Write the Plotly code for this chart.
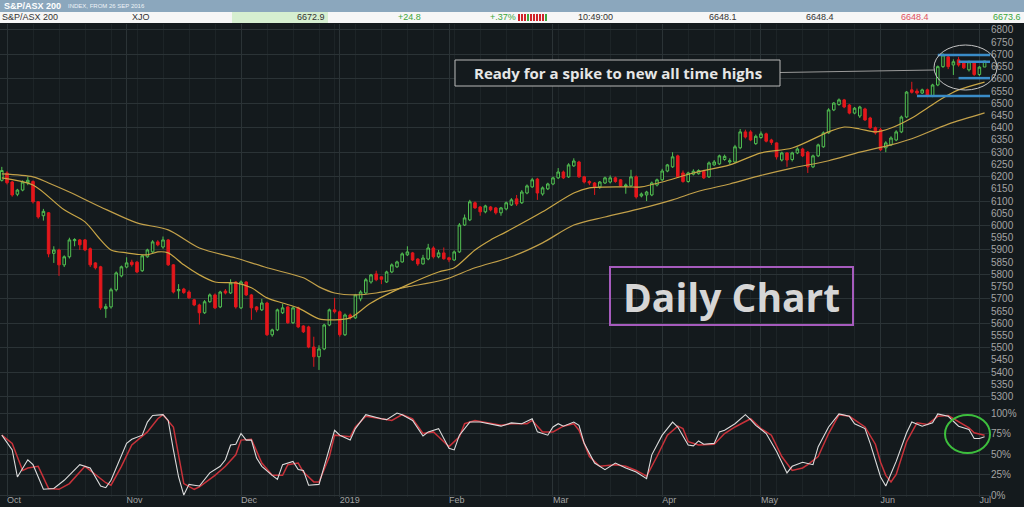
import pandas as pd
import plotly.graph_objects as go

# ASX sessions shown on the chart (weekends + exchange holidays removed)
HOLIDAYS = ["2018-12-25", "2018-12-26", "2019-01-01", "2019-01-28",
            "2019-04-19", "2019-04-22", "2019-04-25", "2019-06-10"]
dates = [d for d in pd.bdate_range("2018-09-28", "2019-07-02")
         if d.strftime("%Y-%m-%d") not in HOLIDAYS]

# daily candles (open, high, low, close), one list per month
sep_2018 = [(6185, 6240, 6180, 6225)]
oct_2018 = [(6215, 6222, 6168, 6175), (6178, 6182, 6118, 6125), (6128, 6150, 6120, 6145),
            (6145, 6185, 6140, 6178), (6175, 6200, 6165, 6185), (6180, 6185, 6090, 6097),
            (6097, 6100, 6028, 6035), (6040, 6068, 6020, 6058), (6052, 6055, 5870, 5884),
            (5886, 5915, 5847, 5900), (5900, 5905, 5794, 5839), (5839, 5878, 5830, 5872),
            (5872, 5950, 5865, 5941), (5938, 5948, 5915, 5942), (5941, 5945, 5900, 5921),
            (5941, 5945, 5895, 5900), (5905, 5910, 5830, 5839), (5847, 5850, 5820, 5827),
            (5831, 5835, 5655, 5663), (5660, 5680, 5622, 5668), (5667, 5745, 5660, 5737),
            (5737, 5812, 5730, 5806), (5794, 5836, 5788, 5831)]
nov_2018 = [(5830, 5870, 5825, 5847), (5850, 5860, 5832, 5840), (5850, 5855, 5805, 5810),
            (5815, 5880, 5810, 5876), (5872, 5905, 5868, 5900), (5892, 5940, 5888, 5933),
            (5933, 5940, 5915, 5921), (5912, 5955, 5905, 5941), (5941, 5945, 5835, 5839),
            (5839, 5842, 5722, 5728), (5733, 5760, 5700, 5738), (5740, 5745, 5720, 5726),
            (5728, 5735, 5700, 5704), (5696, 5700, 5670, 5675), (5675, 5680, 5595, 5643),
            (5643, 5695, 5638, 5688), (5688, 5722, 5684, 5716), (5716, 5722, 5658, 5663),
            (5667, 5733, 5662, 5728), (5732, 5740, 5718, 5724), (5724, 5780, 5720, 5765),
            (5769, 5772, 5660, 5667)]
dec_2018 = [(5663, 5775, 5658, 5769), (5769, 5772, 5712, 5716), (5716, 5720, 5614, 5663),
            (5667, 5670, 5645, 5655), (5655, 5700, 5650, 5683), (5683, 5688, 5548, 5553),
            (5553, 5578, 5545, 5573), (5573, 5660, 5568, 5655), (5643, 5680, 5638, 5663),
            (5667, 5672, 5598, 5602), (5602, 5668, 5597, 5663), (5663, 5668, 5580, 5585),
            (5589, 5592, 5560, 5565), (5585, 5590, 5498, 5503), (5503, 5545, 5422, 5463),
            (5463, 5510, 5409, 5495), (5495, 5598, 5490, 5593), (5593, 5660, 5588, 5655),
            (5655, 5704, 5640, 5647)]
jan_2019 = [(5647, 5652, 5545, 5553), (5553, 5640, 5548, 5634), (5634, 5640, 5615, 5622),
            (5622, 5720, 5618, 5716), (5700, 5735, 5690, 5728), (5724, 5785, 5720, 5778),
            (5769, 5802, 5762, 5798), (5802, 5815, 5772, 5778), (5790, 5792, 5760, 5780),
            (5769, 5815, 5765, 5810), (5810, 5845, 5805, 5839), (5831, 5856, 5826, 5851),
            (5851, 5890, 5848, 5884), (5880, 5915, 5875, 5892), (5888, 5892, 5855, 5859),
            (5863, 5866, 5835, 5843), (5843, 5880, 5840, 5867), (5863, 5925, 5858, 5908),
            (5908, 5915, 5865, 5872), (5872, 5900, 5866, 5888), (5888, 5910, 5860, 5864)]
feb_2019 = [(5868, 5872, 5850, 5860), (5859, 5898, 5855, 5892), (5892, 6010, 5888, 6002),
            (6002, 6045, 5998, 6031), (6023, 6105, 6018, 6097), (6093, 6098, 6068, 6072),
            (6076, 6080, 6040, 6056), (6056, 6085, 6050, 6080), (6076, 6080, 6058, 6064),
            (6072, 6076, 6045, 6052), (6052, 6076, 6040, 6072), (6068, 6098, 6062, 6093),
            (6084, 6112, 6080, 6105), (6109, 6125, 6080, 6088), (6093, 6145, 6088, 6137),
            (6133, 6168, 6128, 6162), (6158, 6195, 6154, 6187), (6190, 6195, 6105, 6133),
            (6129, 6160, 6122, 6154), (6150, 6175, 6145, 6170)]
mar_2019 = [(6170, 6200, 6165, 6195), (6195, 6235, 6190, 6219), (6219, 6225, 6190, 6195),
            (6199, 6255, 6195, 6248), (6244, 6275, 6240, 6264), (6260, 6265, 6195, 6199),
            (6199, 6203, 6172, 6178), (6180, 6185, 6165, 6174), (6174, 6178, 6125, 6158),
            (6158, 6182, 6150, 6178), (6174, 6200, 6170, 6195), (6178, 6205, 6172, 6195),
            (6195, 6200, 6175, 6180), (6187, 6190, 6158, 6162), (6160, 6172, 6130, 6166),
            (6162, 6228, 6158, 6199), (6199, 6205, 6110, 6117), (6121, 6135, 6115, 6129),
            (6125, 6142, 6100, 6137), (6125, 6180, 6120, 6174), (6166, 6192, 6160, 6187)]
apr_2019 = [(6187, 6232, 6182, 6223), (6223, 6252, 6218, 6248), (6240, 6300, 6236, 6281),
            (6285, 6290, 6195, 6199), (6215, 6225, 6175, 6180), (6180, 6220, 6175, 6215),
            (6210, 6230, 6205, 6222), (6212, 6230, 6208, 6225), (6222, 6228, 6190, 6195),
            (6199, 6262, 6195, 6256), (6248, 6268, 6244, 6260), (6252, 6290, 6248, 6285),
            (6270, 6290, 6265, 6283), (6260, 6275, 6250, 6265), (6260, 6330, 6255, 6322),
            (6318, 6395, 6312, 6383), (6383, 6392, 6356, 6362), (6383, 6390, 6345, 6350),
            (6335, 6372, 6330, 6365)]
may_2019 = [(6360, 6385, 6355, 6375), (6375, 6380, 6340, 6345), (6350, 6355, 6330, 6340),
            (6338, 6340, 6270, 6281), (6268, 6302, 6262, 6297), (6297, 6300, 6240, 6268),
            (6270, 6302, 6262, 6297), (6297, 6320, 6292, 6313), (6313, 6318, 6280, 6285),
            (6300, 6305, 6215, 6240), (6240, 6290, 6235, 6285), (6285, 6335, 6280, 6330),
            (6322, 6385, 6318, 6379), (6379, 6480, 6375, 6473), (6473, 6505, 6468, 6501),
            (6495, 6520, 6490, 6514), (6514, 6518, 6480, 6485), (6493, 6497, 6455, 6460),
            (6460, 6485, 6455, 6480), (6448, 6490, 6440, 6485), (6477, 6482, 6428, 6432),
            (6440, 6445, 6395, 6400), (6400, 6405, 6372, 6379)]
jun_2019 = [(6392, 6400, 6305, 6310), (6318, 6345, 6300, 6338), (6330, 6365, 6325, 6358),
            (6350, 6390, 6345, 6383), (6383, 6450, 6378, 6444), (6444, 6550, 6440, 6546),
            (6555, 6588, 6540, 6545), (6550, 6560, 6535, 6542), (6542, 6560, 6538, 6555),
            (6555, 6560, 6525, 6530), (6530, 6580, 6525, 6575), (6575, 6655, 6570, 6650),
            (6650, 6705, 6645, 6698), (6690, 6695, 6640, 6650), (6657, 6680, 6616, 6670),
            (6678, 6690, 6650, 6657), (6665, 6670, 6640, 6645), (6637, 6675, 6630, 6670),
            (6665, 6670, 6612, 6618)]
jul_2019 = [(6618, 6652, 6612, 6648.1), (6648.4, 6673.6, 6648.4, 6672.9)]

candles = (sep_2018 + oct_2018 + nov_2018 + dec_2018 + jan_2019 + feb_2019
           + mar_2019 + apr_2019 + may_2019 + jun_2019 + jul_2019)
opens = [c[0] for c in candles]
highs = [c[1] for c in candles]
lows = [c[2] for c in candles]
closes = [c[3] for c in candles]

# moving averages, sampled at session numbers (0 = 28 Sep 2018)
ma_fast_day = [0, 6, 12, 16, 19, 21, 24, 28, 30, 32, 35, 38, 41, 45, 48, 51, 54, 57, 61, 64,
               67, 71, 78, 84, 87, 91, 94, 97, 104, 110, 113, 120, 123, 127, 133, 140, 146, 152,
               159, 162, 165, 168, 171, 175, 178, 181, 184, 189]
ma_fast = [6195, 6166, 6064, 6015, 5941, 5900, 5888, 5880, 5892, 5888, 5839, 5798, 5769, 5765,
           5745, 5704, 5683, 5663, 5618, 5614, 5622, 5683, 5757, 5810, 5827, 5900, 5941, 5974,
           6056, 6133, 6154, 6158, 6158, 6178, 6215, 6248, 6297, 6317, 6383, 6403, 6395, 6383,
           6399, 6440, 6481, 6522, 6555, 6587]
ma_slow_day = [0, 6, 9, 13, 19, 26, 32, 38, 45, 51, 58, 61, 64, 68, 72, 78, 85, 91, 98, 104,
               110, 116, 123, 129, 134, 140, 146, 152, 159, 165, 171, 175, 182, 189]
ma_slow = [6211, 6199, 6174, 6137, 6076, 6011, 5982, 5908, 5867, 5827, 5786, 5749, 5724, 5716,
           5724, 5749, 5778, 5827, 5872, 5929, 6002, 6035, 6070, 6105, 6140, 6170, 6205, 6235,
           6265, 6300, 6330, 6355, 6415, 6461]

# stochastic %K (white) and %D (red)
k_day = [0, 2, 3, 5, 6, 8, 10, 12, 15, 17, 19, 20, 21, 24, 25, 27, 28, 29, 31, 32,
         33, 34, 35, 36, 37, 38, 40, 42, 43, 44, 45, 46, 47, 48, 49, 50, 52, 53, 54, 56,
         57, 58, 59, 61, 62, 64, 65, 67, 68, 70, 73, 74, 76, 77, 79, 81, 82, 84, 86, 87,
         88, 90, 92, 96, 98, 100, 102, 103, 105, 106, 107, 108, 110, 111, 112, 114, 116, 118, 120, 122,
         124, 125, 127, 129, 130, 132, 133, 134, 135, 137, 138, 139, 141, 143, 144, 145, 147, 149, 151, 152,
         154, 156, 157, 159, 161, 163, 164, 166, 167, 169, 170, 172, 174, 175, 177, 179, 180, 182, 184, 186,
         187, 188, 189]
k_val = [73, 55, 22, 43, 37, 7, 8, 18, 37, 33, 11, 9, 18, 63, 68, 73, 89, 97, 98, 91,
         55, 22, 0, 13, 12, 11, 27, 35, 43, 61, 62, 75, 67, 67, 45, 35, 24, 19, 37, 41,
         31, 30, 12, 13, 35, 79, 73, 67, 81, 98, 93, 92, 100, 98, 91, 72, 77, 81, 57, 55,
         73, 89, 89, 84, 88, 87, 93, 77, 73, 83, 87, 84, 89, 85, 63, 39, 31, 39, 33, 28,
         20, 49, 73, 89, 83, 61, 60, 66, 62, 63, 77, 79, 87, 98, 92, 85, 75, 53, 27, 35,
         40, 37, 59, 83, 99, 96, 87, 81, 63, 22, 11, 41, 76, 89, 84, 88, 99, 96, 84, 80,
         69, 69, 71]
d_day = [0, 2, 4, 5, 7, 9, 11, 13, 16, 17, 20, 21, 23, 25, 26, 28, 30, 31, 33, 34,
         35, 37, 38, 41, 43, 45, 46, 48, 49, 50, 52, 54, 55, 57, 58, 60, 61, 63, 64, 67,
         68, 70, 73, 75, 77, 79, 81, 83, 84, 86, 88, 89, 91, 96, 98, 101, 102, 104, 106, 108,
         110, 111, 113, 115, 118, 120, 122, 124, 126, 128, 130, 131, 132, 134, 137, 139, 141, 144, 146, 148,
         150, 152, 154, 155, 157, 159, 161, 163, 166, 168, 169, 170, 171, 172, 174, 176, 178, 180, 182, 184,
         186, 187, 189]
d_val = [73, 63, 30, 33, 35, 8, 7, 14, 35, 30, 15, 12, 35, 61, 66, 77, 93, 98, 83, 47,
         14, 7, 10, 24, 35, 49, 67, 68, 53, 39, 24, 24, 37, 39, 28, 16, 16, 47, 73, 71,
         83, 96, 93, 91, 98, 93, 75, 77, 71, 59, 71, 87, 91, 85, 87, 87, 91, 77, 77, 84,
         87, 79, 47, 35, 37, 35, 30, 23, 47, 73, 84, 81, 65, 61, 62, 75, 83, 93, 81, 73,
         47, 30, 33, 37, 47, 75, 98, 96, 83, 62, 40, 24, 16, 25, 65, 88, 86, 96, 97, 90,
         82, 76, 73]

# hand-drawn support/resistance levels (start date, price)
levels = [("2019-06-19", 6698), ("2019-06-25", 6670), ("2019-06-25", 6603), ("2019-06-13", 6530)]

month_ticks = ["2018-10-01", "2018-11-01", "2018-12-03", "2019-01-02", "2019-02-01",
               "2019-03-01", "2019-04-01", "2019-05-01", "2019-06-03", "2019-07-01"]
month_labels = ["Oct", "Nov", "Dec", "2019", "Feb", "Mar", "Apr", "May", "Jun", "Jul"]

BG = "#141a1d"
GRID = "#2b3336"
GRID_MINOR = "#1d2427"
GREEN = "#52c152"
RED = "#e3171c"
GOLD = "#c9a646"
TICK = "#a3a3a3"

# pixel helpers for overlay artwork (plot area = 990 x 473 px, top at 24 px)
def px(x):
    return x / 990.0

def py(y):
    return (497 - y) / 473.0

fig = go.Figure()
fig.add_trace(go.Candlestick(
    x=dates, open=opens, high=highs, low=lows, close=closes,
    increasing=dict(line=dict(color=GREEN, width=1), fillcolor=BG),
    decreasing=dict(line=dict(color=RED, width=1), fillcolor=RED),
    whiskerwidth=0, hoverinfo="skip", showlegend=False))
fig.add_trace(go.Scatter(x=[dates[d] for d in ma_slow_day], y=ma_slow, mode="lines",
                         line=dict(color="#c2a04a", width=1.2, shape="spline", smoothing=0.8),
                         hoverinfo="skip"))
fig.add_trace(go.Scatter(x=[dates[d] for d in ma_fast_day], y=ma_fast, mode="lines",
                         line=dict(color=GOLD, width=1.2, shape="spline", smoothing=0.8),
                         hoverinfo="skip"))
# empty trace so the 100-point grid axis exists
fig.add_trace(go.Scatter(x=[], y=[], yaxis="y3", hoverinfo="skip"))
fig.add_trace(go.Scatter(x=[dates[d] for d in d_day], y=d_val, mode="lines",
                         line=dict(color="#c8323a", width=1.5), xaxis="x2", yaxis="y2",
                         hoverinfo="skip"))
fig.add_trace(go.Scatter(x=[dates[d] for d in k_day], y=k_val, mode="lines",
                         line=dict(color="#dcdcdc", width=1.1), xaxis="x2", yaxis="y2",
                         hoverinfo="skip"))

breaks = [dict(bounds=["sat", "mon"]), dict(values=HOLIDAYS)]
x_range = ["2018-09-27 15:40", "2019-07-03 01:00"]
minor = dict(dtick=7 * 86400000, tick0="2018-10-01", showgrid=True, gridcolor=GRID_MINOR)
tickfont = dict(family="Liberation Sans", size=10, color=TICK)
main_dom = [92 / 473.0, 1]

fig.update_layout(
    template="none", width=1024, height=507,
    margin=dict(l=0, r=34, t=24, b=10),
    paper_bgcolor=BG, plot_bgcolor=BG, showlegend=False,
    xaxis=dict(anchor="y", range=x_range, rangebreaks=breaks, rangeslider=dict(visible=False),
               tickmode="array", tickvals=month_ticks, showticklabels=False,
               showgrid=True, gridcolor=GRID, minor=minor, zeroline=False, showline=False, ticks=""),
    xaxis2=dict(anchor="y2", matches="x", range=x_range, rangebreaks=breaks,
                tickmode="array", tickvals=month_ticks, ticktext=month_labels,
                ticklabelposition="outside right", ticklabelstandoff=-4,
                tickfont=dict(family="Liberation Sans", size=9, color=TICK),
                showgrid=True, gridcolor=GRID, minor=minor, zeroline=False, showline=False, ticks=""),
    yaxis=dict(domain=main_dom, anchor="x", side="right", range=[5265.6, 6824.5],
               tick0=0, dtick=50, showgrid=False, zeroline=False, tickfont=tickfont, ticks=""),
    yaxis3=dict(overlaying="y", anchor="x", side="right", range=[5265.6, 6824.5],
                tick0=0, dtick=100, showgrid=True, gridcolor=GRID, showticklabels=False,
                zeroline=False, ticks=""),
    yaxis2=dict(domain=[0, 92 / 473.0], anchor="x2", side="right", range=[-2.4, 109.8],
                tickmode="array", tickvals=[0, 25, 50, 75, 100],
                ticktext=["0%", "25%", "50%", "75%", "100%"],
                showgrid=True, gridcolor=GRID, zeroline=False, tickfont=tickfont, ticks=""),
)

shapes = []
# support / resistance lines
for start, lvl in levels:
    shapes.append(dict(type="line", xref="x", yref="y", x0=start, x1="2019-07-03 01:00",
                       y0=lvl, y1=lvl, line=dict(color="#3a8cc8", width=2.5)))
# callout ellipse, connector and boxes
shapes.append(dict(type="circle", xref="paper", yref="paper", x0=px(934), x1=px(997),
                   y0=py(90), y1=py(45), line=dict(color="#c4c4c4", width=1)))
shapes.append(dict(type="line", xref="paper", yref="paper", x0=px(780), x1=px(934),
                   y0=py(72.5), y1=py(70), line=dict(color="#9a9a9a", width=1)))
shapes.append(dict(type="rect", xref="paper", yref="paper", x0=px(455), x1=px(780),
                   y0=py(86), y1=py(60), line=dict(color="#b8b8b8", width=1), fillcolor=BG))
shapes.append(dict(type="rect", xref="paper", yref="paper", x0=px(610), x1=px(853),
                   y0=py(325), y1=py(267), line=dict(color="#a65bbd", width=2)))
shapes.append(dict(type="circle", xref="paper", yref="paper", x0=px(945), x1=px(990),
                   y0=py(453), y1=py(415), line=dict(color="#3dbf3d", width=2)))
# quote header
shapes.append(dict(type="rect", xref="paper", yref="paper", x0=0, x1=px(1024),
                   y0=py(12), y1=py(0), line=dict(width=0), fillcolor="#8ba7bd"))
shapes.append(dict(type="rect", xref="paper", yref="paper", x0=0, x1=px(1024),
                   y0=py(23), y1=py(12), line=dict(width=0), fillcolor="#f6f6f6"))
shapes.append(dict(type="rect", xref="paper", yref="paper", x0=px(232), x1=px(328),
                   y0=py(23), y1=py(12), line=dict(width=0), fillcolor="#d6efd0"))
for k in range(10):
    shapes.append(dict(type="rect", xref="paper", yref="paper",
                       x0=px(518 + 3 * k), x1=px(520 + 3 * k), y0=py(21), y1=py(14),
                       line=dict(width=0), fillcolor="#3fa83f" if k in (3, 9) else "#d0242a"))
fig.update_layout(shapes=shapes)

ann = []
def label(text, x, y, anchor="left", size=9, color="#333333", bold=False, family="Liberation Sans"):
    ann.append(dict(text="<b>%s</b>" % text if bold else text, x=px(x), y=py(y),
                    xref="paper", yref="paper", xanchor=anchor, yanchor="middle",
                    showarrow=False, font=dict(family=family, size=size, color=color)))

label("S&amp;P/ASX 200", 2, 6, bold=True, size=9, color="#ffffff")
label("INDEX, FROM 26 SEP 2016", 66, 6.5, size=6, color="#eef3f7")
label("S&amp;P/ASX 200", 0, 17.5)
label("XJO", 130, 17.5)
label("6672.9", 327, 17.5, anchor="right")
label("+24.8", 409, 17.5, anchor="center", color="#3aa63a")
label("+.37%", 503, 17.5, anchor="center", color="#3aa63a")
label("10:49:00", 595, 17.5, anchor="center")
label("6648.1", 723, 17.5, anchor="center")
label("6648.4", 820, 17.5, anchor="center")
label("6648.4", 915, 17.5, anchor="center", color="#e05060")
label("6673.6", 1023, 17.5, anchor="right", color="#3aa63a")
label("Ready for a spike to new all time highs", 617.5, 73, anchor="center", size=15,
      color="#e6e6e6", bold=True, family="Open Sans")
label("Daily Chart", 731.5, 296, anchor="center", size=39, color="#d6d6d6", bold=True,
      family="Open Sans")
fig.update_layout(annotations=ann)

# the page's default 8px body margin would shift the whole figure
fig.write_html("out.html", config={"displayModeBar": False},
               post_script="document.body.style.margin='0';")
